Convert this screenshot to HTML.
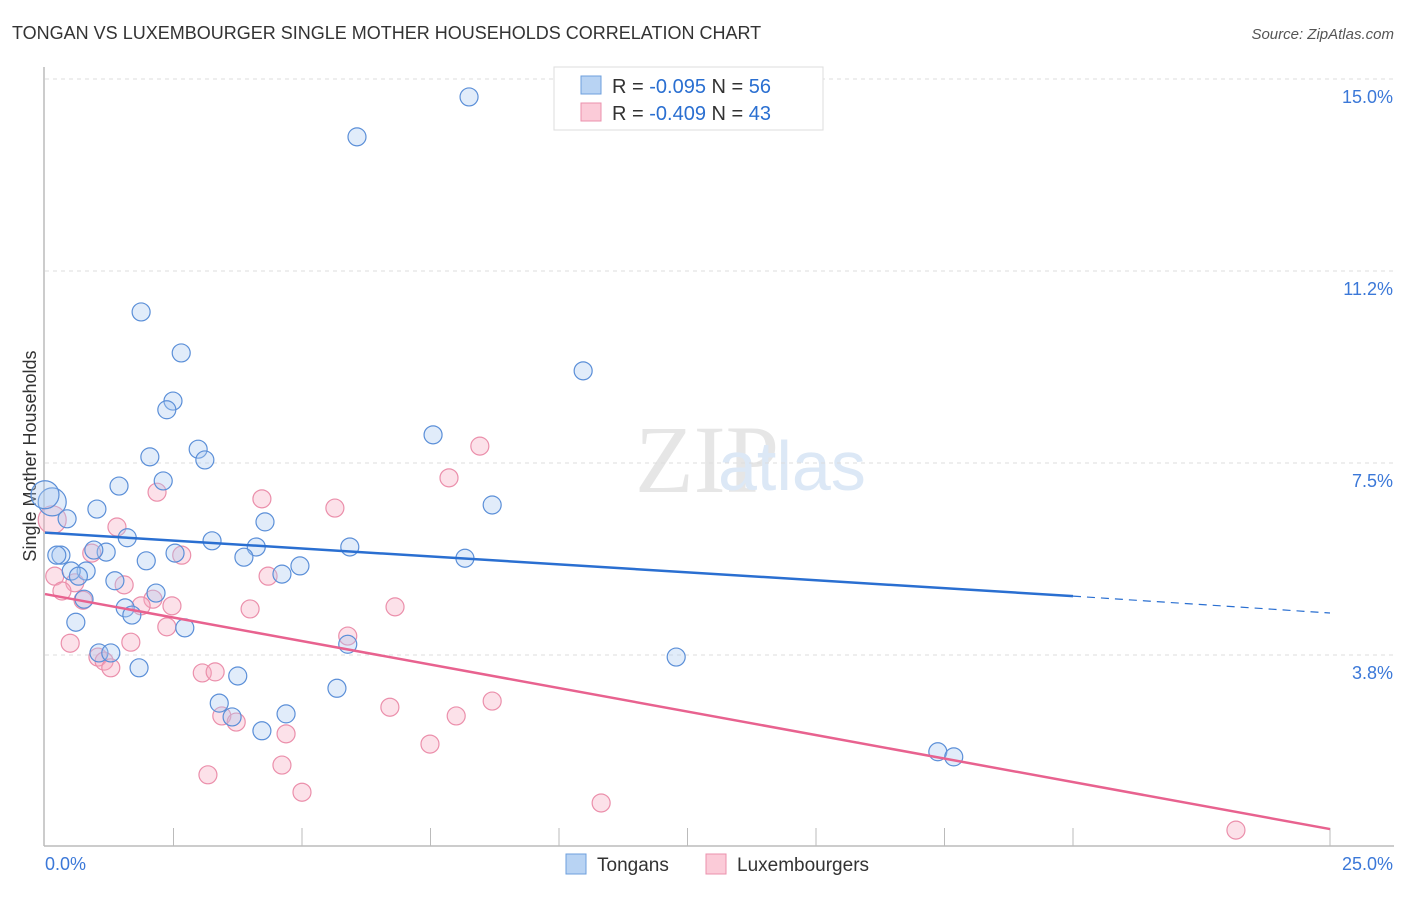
<!DOCTYPE html>
<html><head><meta charset="utf-8"><style>
body{margin:0;background:#fff;font-family:"Liberation Sans",sans-serif}
</style></head><body>
<svg id="c" width="1406" height="892" xmlns="http://www.w3.org/2000/svg">
<text x="12" y="39" font-size="18" fill="#333">TONGAN VS LUXEMBOURGER SINGLE MOTHER HOUSEHOLDS CORRELATION CHART</text>
<text x="1394" y="39" font-size="15" fill="#555" text-anchor="end" font-style="italic">Source: ZipAtlas.com</text>
<text x="36" y="456" font-size="18" fill="#333" text-anchor="middle" transform="rotate(-90 36 456)">Single Mother Households</text>
<text x="635" y="492" font-size="96" fill="#e6e6e6" font-family="Liberation Serif">ZIP</text>
<text x="718" y="490" font-size="70" fill="#dce8f6">atlas</text>
<g id="grid"></g><g id="pts"></g><g id="lines"></g>
<g>
<rect x="554" y="67" width="269" height="63" fill="#fff" stroke="#ddd"/>
<rect x="581" y="76" width="20" height="18" fill="#b8d3f3" stroke="#6e9fdc"/>
<rect x="581" y="103" width="20" height="18" fill="#fbcbd8" stroke="#eb90ad"/>
<text x="612" y="93" font-size="20" fill="#333">R = <tspan fill="#2a6fd1">-0.095</tspan>   N = <tspan fill="#2a6fd1">56</tspan></text>
<text x="612" y="120" font-size="20" fill="#333">R = <tspan fill="#2a6fd1">-0.409</tspan>   N = <tspan fill="#2a6fd1">43</tspan></text>
</g>
<g>
<rect x="566" y="854" width="20" height="20" fill="#b8d3f3" stroke="#6e9fdc"/>
<text x="597" y="871" font-size="19" fill="#333">Tongans</text>
<rect x="706" y="854" width="20" height="20" fill="#fbcbd8" stroke="#eb90ad"/>
<text x="737" y="871" font-size="19" fill="#333">Luxembourgers</text>
</g>
</svg>
<script>
const yTicks=[3.8,7.5,11.2,15.0];
const yTickVals=[3.75,7.5,11.25,15.0];
const tongX=[8.25,6.07,1.87,2.65,10.47,2.49,2.37,7.55,2.98,2.04,3.11,2.30,1.44,0.14,8.70,1.01,0.43,4.28,1.60,3.25,4.11,5.93,1.19,2.53,0.95,3.87,8.17,0.31,0.23,1.97,4.96,0.80,0.51,0.65,4.61,1.36,2.16,0.76,1.56,1.69,0.60,2.72,5.89,1.05,1.28,12.28,1.83,3.75,5.68,3.39,3.64,4.69,4.22,17.37,17.68,0.0];
const tongY=[14.65,13.87,10.45,9.65,9.30,8.71,8.54,8.05,7.77,7.62,7.56,7.15,7.05,6.74,6.68,6.60,6.41,6.35,6.04,5.98,5.86,5.86,5.76,5.74,5.80,5.66,5.64,5.70,5.70,5.59,5.49,5.39,5.39,5.29,5.33,5.20,4.96,4.84,4.67,4.53,4.39,4.28,3.96,3.79,3.79,3.71,3.50,3.34,3.10,2.81,2.54,2.60,2.27,1.86,1.76,6.88];
const luxX=[8.46,7.86,2.18,4.22,5.64,1.40,0.14,0.91,2.66,0.19,4.34,0.58,1.54,0.33,0.74,2.10,2.47,1.87,3.99,6.81,2.37,5.89,1.67,0.49,1.03,1.15,1.28,3.06,3.31,8.70,6.71,3.44,3.72,8.00,4.69,7.49,3.17,4.61,5.00,10.82,23.17];
const luxY=[7.83,7.21,6.93,6.80,6.62,6.25,6.39,5.74,5.70,5.29,5.29,5.16,5.12,5.00,4.82,4.84,4.71,4.71,4.65,4.69,4.30,4.12,4.00,3.98,3.71,3.63,3.50,3.40,3.42,2.85,2.73,2.56,2.44,2.56,2.21,2.01,1.41,1.60,1.07,0.86,0.33];
const tongLine=[[0,6.14],[20,4.90],[25,4.57]];
const luxLine=[[0,4.94],[25,0.35]];
const X0=45,X1=1330,Y0=847,PPY=51.2;
const sx=v=>X0+(X1-X0)*v/25, sy=v=>Y0-v*PPY;
const NS="http://www.w3.org/2000/svg";
function mk(t,a,p){const e=document.createElementNS(NS,t);for(const k in a)e.setAttribute(k,a[k]);p.appendChild(e);return e;}
const g=document.getElementById('grid');
yTickVals.forEach((v,i)=>{
 const l=mk('line',{x1:45,x2:1394,y1:sy(v),y2:sy(v),stroke:'#ddd','stroke-dasharray':'4,4'},g);
 
 
 const t=mk('text',{x:1393,y:sy(v)+24,'font-size':18,fill:'#3b78d8','text-anchor':'end'},g);
 t.textContent=yTicks[i].toFixed(1)+'%';
 
 
});
const ax=mk('line',{x1:44,x2:44,y1:67,y2:846,stroke:'#bbb','stroke-width':1.5},g);


const bx=mk('line',{x1:44,x2:1394,y1:846,y2:846,stroke:'#bbb','stroke-width':1.5},g);


for(let i=1;i<=10;i++){if(i===9)continue;const x=sx(i*2.5);
 const tk=mk('line',{x1:x,x2:x,y1:828,y2:846,stroke:'#bbb'},g);
 
 }
[['0.0%',45,'start'],['25.0%',1393,'end']].forEach(a=>{
 const t=mk('text',{x:a[1],y:870,'font-size':18,fill:'#3b78d8','text-anchor':a[2]},g);t.textContent=a[0];
 
 });
const p=document.getElementById('pts');
function dots(xs,ys,fill,stroke,name){xs.forEach((v,i)=>{
 const c=mk('circle',{cx:sx(v),cy:sy(ys[i]),r:(v===0||(v<0.2&&ys[i]>6.3))?14:9,fill:fill,'fill-opacity':0.35,stroke:stroke,'stroke-width':1.2},p);
 
 });}
dots(luxX,luxY,'#f6a9c1','#eb8fab','luxembourger-point');
dots(tongX,tongY,'#a9c8f0','#5b8fd8','tongan-point');
const L=document.getElementById('lines');
const t1=mk('line',{x1:sx(tongLine[0][0]),y1:sy(tongLine[0][1]),x2:sx(tongLine[1][0]),y2:sy(tongLine[1][1]),stroke:'#2a6fd1','stroke-width':2.5},L);


const t2=mk('line',{x1:sx(tongLine[1][0]),y1:sy(tongLine[1][1]),x2:sx(tongLine[2][0]),y2:sy(tongLine[2][1]),stroke:'#2a6fd1','stroke-width':1.2,'stroke-dasharray':'8,6'},L);


const t3=mk('line',{x1:sx(luxLine[0][0]),y1:sy(luxLine[0][1]),x2:sx(luxLine[1][0]),y2:sy(luxLine[1][1]),stroke:'#e8628f','stroke-width':2.5},L);


</script>
</body></html>
